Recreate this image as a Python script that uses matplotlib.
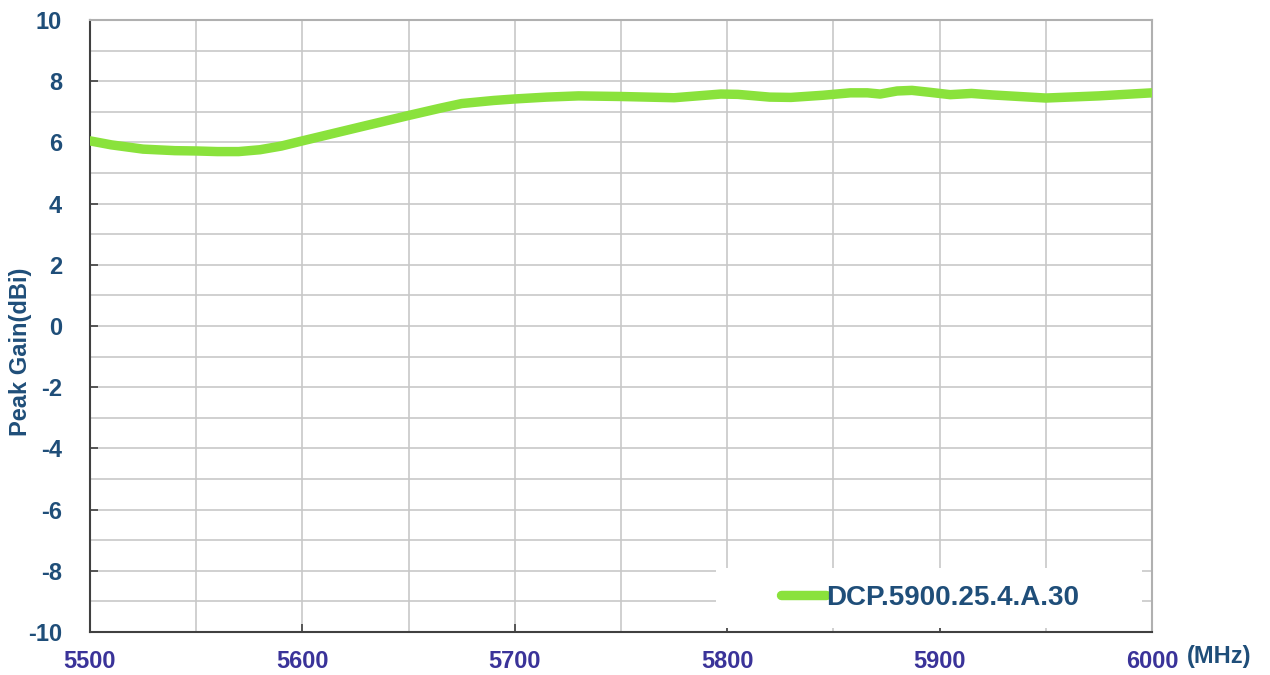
import numpy as np
import matplotlib.pyplot as plt
from matplotlib.patches import Rectangle
from matplotlib.ticker import MultipleLocator

plt.rcParams['font.family'] = ['Liberation Sans', 'DejaVu Sans']
plt.rcParams['axes.unicode_minus'] = False

# 频率 (MHz) 与峰值增益 (dBi)
freq = [5500, 5510, 5525, 5540, 5550, 5560, 5570, 5580, 5590, 5600,
        5615, 5630, 5650, 5665, 5675, 5690, 5700, 5715, 5730, 5750,
        5775, 5797, 5805, 5820, 5830, 5845, 5858, 5866, 5872, 5880,
        5887, 5895, 5905, 5915, 5925, 5950, 5975, 6000]
gain = [6.05, 5.92, 5.78, 5.73, 5.72, 5.70, 5.70, 5.76, 5.88, 6.05,
        6.30, 6.55, 6.88, 7.12, 7.27, 7.37, 7.42, 7.48, 7.52, 7.50,
        7.46, 7.58, 7.57, 7.48, 7.47, 7.54, 7.62, 7.62, 7.58, 7.68,
        7.70, 7.64, 7.56, 7.60, 7.55, 7.45, 7.52, 7.62]
series_name = "DCP.5900.25.4.A.30"

navy = '#1F4E79'
purple = '#3A3399'
grid_c = '#C8C8C8'

fig = plt.figure(figsize=(12.7, 6.75), dpi=100)
ax = fig.add_axes([90/1270, 43/675, 1062/1270, 612/675])

ax.plot(freq, gain, color='#8AE23C', lw=6.8, solid_capstyle='round',
        solid_joinstyle='round', label=series_name, zorder=4)

ax.set_xlim(5500, 6000)
ax.set_ylim(-10, 10)
ax.xaxis.set_major_locator(MultipleLocator(100))
ax.xaxis.set_minor_locator(MultipleLocator(50))
ax.yaxis.set_major_locator(MultipleLocator(2))
ax.yaxis.set_minor_locator(MultipleLocator(1))
ax.grid(True, which='both', color=grid_c, lw=1.2, zorder=0)
ax.set_axisbelow(True)

for s in ['top', 'right']:
    ax.spines[s].set_color('#B0B0B0')
    ax.spines[s].set_linewidth(1.5)
for s in ['left', 'bottom']:
    ax.spines[s].set_color('#404040')
    ax.spines[s].set_linewidth(1.5)

ax.tick_params(which='major', direction='in', length=6, width=1.2, color='#404040')
ax.tick_params(which='minor', length=0)
ax.tick_params(axis='y', pad=20, labelsize=17, labelcolor=navy)
ax.tick_params(axis='x', pad=13, labelsize=17, labelcolor=purple)
for lbl in ax.get_xticklabels() + ax.get_yticklabels():
    lbl.set_fontweight('bold')

fig.text(21/1270, 1 - 352/675, 'Peak Gain(dBi)', fontsize=17, fontweight='bold',
         color=navy, rotation=90, ha='center', va='center')
fig.text(1219/1270, 1 - 656/675, '(MHz)', fontsize=17, fontweight='bold',
         color=navy, ha='center', va='center')

# 图例背景
ax.add_patch(Rectangle((0.589, 0.006), 0.402, 0.098, transform=ax.transAxes,
                       facecolor='white', edgecolor='none', zorder=2))
leg = ax.legend(loc='center', bbox_to_anchor=(0.791, 0.056), frameon=False,
                handlelength=1.6, handletextpad=0.0,
                prop={'size': 20, 'weight': 'bold'})
for t in leg.get_texts():
    t.set_color(navy)
leg.set_zorder(5)

fig.savefig('out.png', dpi=100)
